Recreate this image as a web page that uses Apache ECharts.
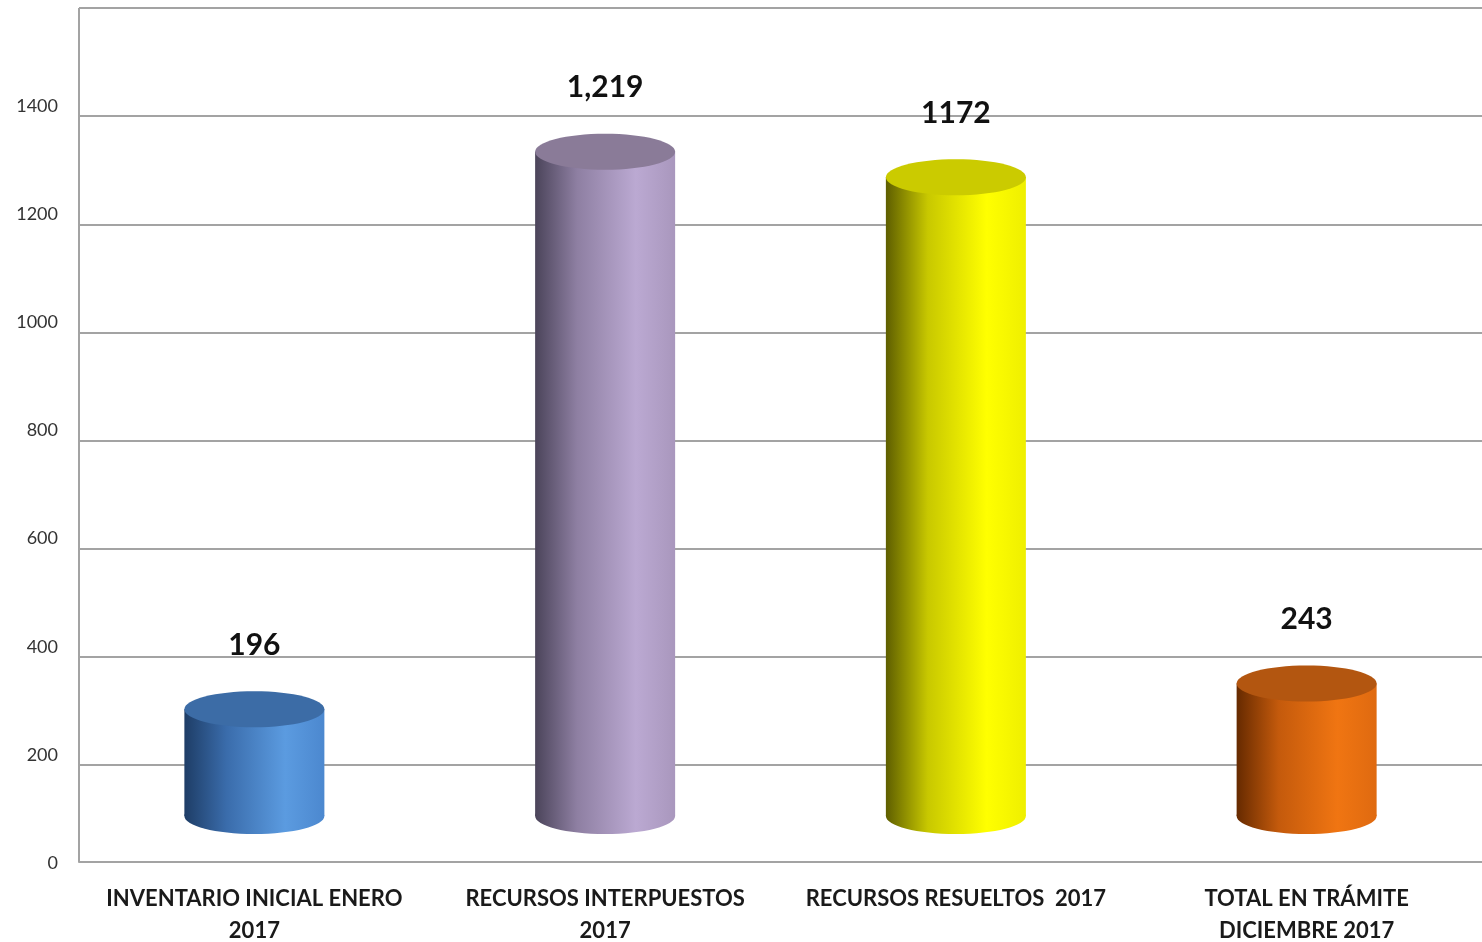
<!DOCTYPE html>
<html><head><meta charset="utf-8">
<script src="https://cdn.jsdelivr.net/npm/echarts@6/dist/echarts.min.js"></script>
<style>html,body{margin:0;padding:0;background:#fff}#c{width:1482px;height:942px}</style>
</head><body><div id="c"></div>
<script>
const categories = ['INVENTARIO INICIAL ENERO\n2017', 'RECURSOS INTERPUESTOS\n2017', 'RECURSOS RESUELTOS  2017', 'TOTAL EN TRÁMITE\nDICIEMBRE 2017'];
const values = [196, 1219, 1172, 243];
const valueLabels = ['196', '1,219', '1172', '243'];
const yMin = 0, yMax = 1600, yStep = 200;

const palette = [
  {side: ['#1e3d66', '#3a6cab', '#5b9be0', '#4c88cf'], top: '#3c6ca6'},
  {side: ['#4b445a', '#8e7fa2', '#bba9d2', '#a997bd'], top: '#8a7b98'},
  {side: ['#5e5e00', '#c8c800', '#ffff00', '#efef00'], top: '#cbcb00'},
  {side: ['#662a00', '#c45a0c', '#f07512', '#df6a10'], top: '#b35610'}
];
const BAR_W = 140, RY = 18, SHIFT = -57, SCALE = 1.008;

const chart = echarts.init(document.getElementById('c'), null, {renderer: 'canvas'});
const grey = '#a3a3a3';
const splitColors = ['rgba(0,0,0,0)'];
for (let v = yMin + yStep; v <= yMax; v += yStep) splitColors.push(grey);

function renderItem(params, api) {
  const idx = api.value(0);
  const v = api.value(1);
  const pv = api.coord([idx, v]);
  const p0 = api.coord([idx, 0]);
  const cx = pv[0];
  const baseY = p0[1] + SHIFT;
  const topY = baseY - (p0[1] - pv[1]) * SCALE;
  const c = palette[idx % palette.length];
  const grad = new echarts.graphic.LinearGradient(0, 0, 1, 0, [
    {offset: 0, color: c.side[0]},
    {offset: 0.3, color: c.side[1]},
    {offset: 0.72, color: c.side[2]},
    {offset: 1, color: c.side[3]}
  ]);
  return {
    type: 'group',
    children: [
      {type: 'ellipse', shape: {cx: cx, cy: baseY, rx: BAR_W / 2, ry: RY}, style: {fill: grad}},
      {type: 'rect', shape: {x: cx - BAR_W / 2, y: topY, width: BAR_W, height: baseY - topY}, style: {fill: grad}},
      {type: 'ellipse', shape: {cx: cx, cy: topY, rx: BAR_W / 2, ry: RY}, style: {fill: c.top}},
      {type: 'text', x: cx, y: topY - 64, style: {text: valueLabels[idx], fill: '#111', font: 'bold 30px Lato', align: 'center', verticalAlign: 'middle'}}
    ]
  };
}

chart.setOption({
  animation: false,
  backgroundColor: '#fff',
  grid: {left: 79, right: 0, top: 8, bottom: 69, containLabel: false, outerBoundsMode: 'none'},
  xAxis: {
    type: 'category', data: categories, offset: -11,
    axisLine: {show: true, lineStyle: {color: grey, width: 2}},
    axisTick: {show: false},
    axisLabel: {interval: 0, margin: 21, color: '#1a1a1a', fontFamily: 'Lato', fontWeight: 'bold', fontSize: 22, lineHeight: 32}
  },
  yAxis: {
    type: 'value', min: yMin, max: yMax, interval: yStep,
    axisLine: {show: false}, axisTick: {show: false},
    axisLabel: {margin: 21, color: '#333', fontFamily: 'Lato', fontSize: 18, verticalAlign: 'bottom', lineHeight: 20,
      formatter: v => v >= yMax ? '' : String(v)},
    splitLine: {show: true, lineStyle: {color: splitColors, width: 2}}
  },
  series: [{
    type: 'custom',
    renderItem: renderItem,
    data: values.map((v, i) => [i, v]),
    encode: {x: 0, y: 1}
  }]
});

const pTop = chart.convertToPixel({yAxisIndex: 0}, yMax);
const pZero = chart.convertToPixel({yAxisIndex: 0}, 0);
chart.setOption({
  graphic: [{type: 'line', shape: {x1: 79, y1: pTop, x2: 79, y2: pZero - 11}, style: {stroke: grey, lineWidth: 2}}]
});
</script></body></html>
